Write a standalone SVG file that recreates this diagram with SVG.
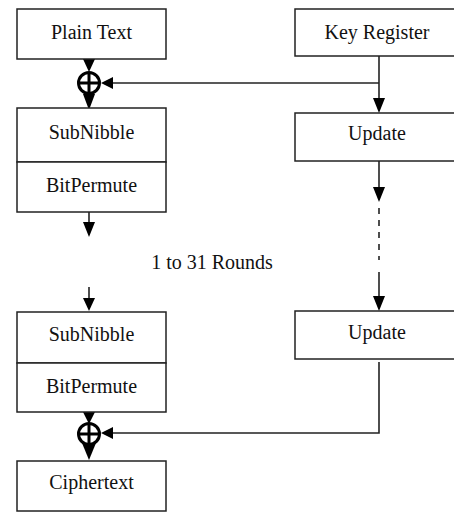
<svg xmlns="http://www.w3.org/2000/svg" width="454" height="512" viewBox="0 0 454 512">
<style>
.box{fill:#fff;stroke:#222;stroke-width:1.5}
.t{font-family:"Liberation Serif","Times New Roman",serif;font-size:20px;fill:#111;text-anchor:middle}
.ln{fill:none;stroke:#222;stroke-width:1.6}
.dash{fill:none;stroke:#222;stroke-width:1.6;stroke-dasharray:6,6}
.ah{fill:#000}
.xor{fill:none;stroke:#000;stroke-width:3}
</style>
<rect width="454" height="512" fill="#fff"/>
<g id="connectors">
<line class="ln" x1="379" y1="56" x2="379" y2="100"/>
<line class="ln" x1="379" y1="83" x2="112" y2="83"/>
<polygon class="ah" points="373,98 385,98 379,113"/>
<polygon class="ah" points="113,77 113,89 101,83"/>
<polygon class="ah" points="83,59 95,59 89,72"/>
<polygon class="ah" points="83,94 95,94 89,110"/>
<line class="ln" x1="379" y1="161" x2="379" y2="190"/>
<polygon class="ah" points="373,187 385,187 379,202"/>
<line class="dash" x1="379" y1="208" x2="379" y2="260"/>
<line class="ln" x1="379" y1="272" x2="379" y2="298"/>
<polygon class="ah" points="373,296 385,296 379,311"/>
<line class="ln" x1="89" y1="212" x2="89" y2="224"/>
<polygon class="ah" points="83,222 95,222 89,237"/>
<line class="ln" x1="89" y1="287" x2="89" y2="300"/>
<polygon class="ah" points="83,298 95,298 89,311"/>
<polyline class="ln" points="379,362 379,433 112,433"/>
<polygon class="ah" points="113,427 113,439 101,433"/>
<polygon class="ah" points="83,412 95,412 89,424"/>
<polygon class="ah" points="82,443 96,443 89,460"/>
</g>
<g id="xor1"><circle class="xor" cx="89" cy="83" r="10.5"/><line class="xor" x1="79" y1="83" x2="99" y2="83"/><line class="xor" x1="89" y1="73" x2="89" y2="93"/></g>
<g id="xor2"><circle class="xor" cx="89" cy="434" r="10.5"/><line class="xor" x1="79" y1="434" x2="99" y2="434"/><line class="xor" x1="89" y1="424" x2="89" y2="444"/></g>
<g id="plaintext"><rect class="box" x="17" y="9" width="149" height="50"/><text class="t" x="91.5" y="39">Plain Text</text></g>
<g id="keyregister"><rect class="box" x="295" y="9" width="165" height="47"/><text class="t" x="377" y="39">Key Register</text></g>
<g id="subnibble1"><rect class="box" x="17" y="108" width="149" height="54"/><text class="t" x="91.5" y="139">SubNibble</text></g>
<g id="bitpermute1"><rect class="box" x="17" y="162" width="149" height="50"/><text class="t" x="91.5" y="192">BitPermute</text></g>
<g id="update1"><rect class="box" x="295" y="113" width="165" height="48"/><text class="t" x="377" y="140">Update</text></g>
<g id="rounds"><text class="t" x="212" y="269">1 to 31 Rounds</text></g>
<g id="subnibble2"><rect class="box" x="17" y="312" width="149" height="51"/><text class="t" x="91.5" y="341">SubNibble</text></g>
<g id="bitpermute2"><rect class="box" x="17" y="363" width="149" height="49"/><text class="t" x="91.5" y="393">BitPermute</text></g>
<g id="update2"><rect class="box" x="295" y="311" width="165" height="48"/><text class="t" x="377" y="339">Update</text></g>
<g id="ciphertext"><rect class="box" x="17" y="461" width="149" height="50"/><text class="t" x="91.5" y="489">Ciphertext</text></g>
</svg>
